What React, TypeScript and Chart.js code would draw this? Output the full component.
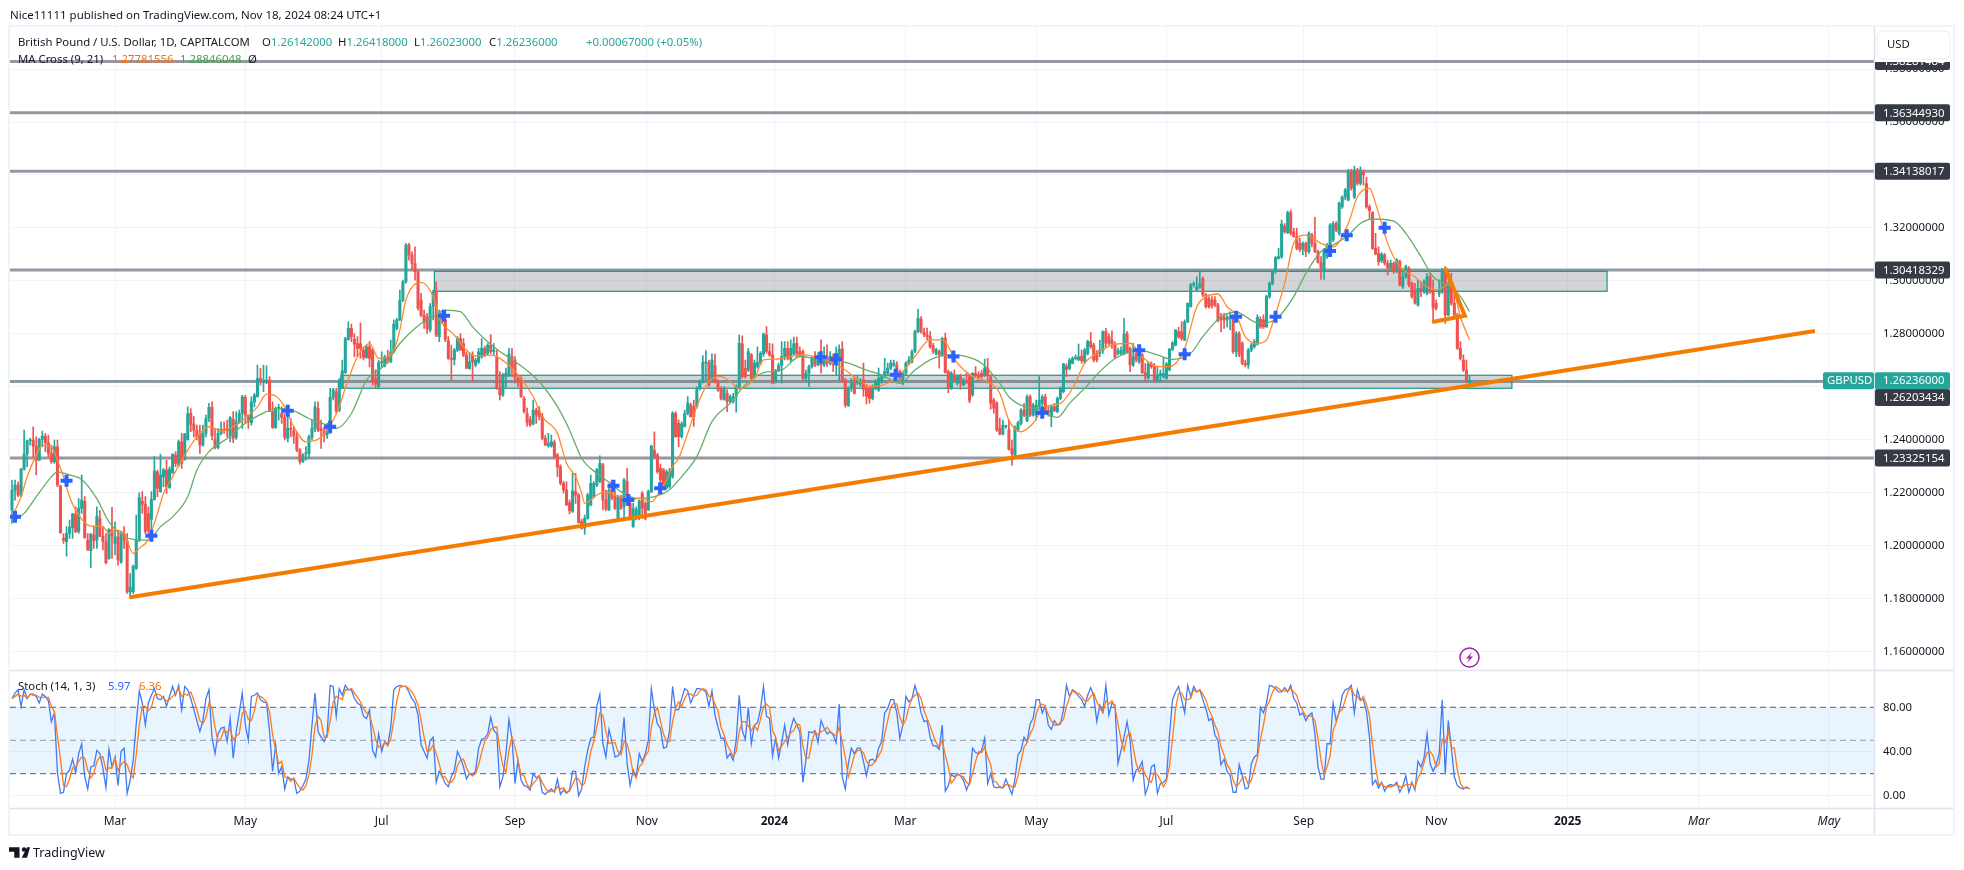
import React, { useEffect, useRef } from "react";
import { Chart, registerables } from "chart.js";

Chart.register(...registerables);

// Each candle is [open, high, low, close].
const candles2023a = [
[1.2135,1.2249,1.2085,1.2211],[1.2211,1.2249,1.2173,1.2230],[1.2230,1.2242,1.2186,1.2192],[1.2192,1.2293,1.2186,1.2290],[1.2290,1.2437,1.2286,1.2347],[1.2347,1.2400,1.2299,1.2397],[1.2397,1.2406,1.2381,1.2400],[1.2400,1.2450,1.2337,1.2377],[1.2377,1.2412,1.2268,1.2324],[1.2324,1.2406,1.2322,1.2402],
[1.2402,1.2434,1.2374,1.2415],[1.2415,1.2425,1.2356,1.2390],[1.2390,1.2419,1.2337,1.2349],[1.2349,1.2381,1.2312,1.2318],[1.2318,1.2400,1.2312,1.2374],[1.2374,1.2400,1.2224,1.2230],[1.2226,1.2230,1.2047,1.2050],[1.2029,1.2047,1.2010,1.2022],[1.2016,1.2073,1.1962,1.2047],[1.2047,1.2098,1.2029,1.2070],
[1.2070,1.2123,1.2029,1.2120],[1.2120,1.2148,1.2050,1.2054],[1.2054,1.2179,1.2047,1.2142],[1.2142,1.2268,1.2123,1.2173],[1.2169,1.2186,1.2029,1.2032],[1.2022,1.2047,1.1982,1.1987],[1.1982,1.2047,1.1918,1.2045],[1.2041,1.2073,1.1991,1.2020],[1.2022,1.2148,1.1991,1.2113],[1.2104,1.2135,1.2035,1.2037],
[1.2037,1.2073,1.1985,1.2016],[1.2016,1.2047,1.1932,1.1937],[1.1953,1.2066,1.1949,1.2063],[1.2060,1.2146,1.1953,1.2037],[1.2010,1.2091,1.1966,1.2035],[1.2035,1.2060,1.1928,1.1947],[1.1940,1.2054,1.1934,1.2047],[1.2047,1.2073,1.1991,1.2022],[1.2020,1.2047,1.1821,1.1827],[1.1827,1.1896,1.1802,1.1844],
[1.1827,1.1928,1.1821,1.1924],[1.1915,1.2117,1.1912,1.2022],[1.2022,1.2201,1.2016,1.2183],[1.2169,1.2205,1.2123,1.2158],[1.2158,1.2186,1.2047,1.2054],[1.2123,1.2148,1.2047,1.2060],[1.2100,1.2205,1.2047,1.2176],[1.2176,1.2337,1.2173,1.2283],[1.2280,1.2286,1.2186,1.2217],[1.2205,1.2347,1.2202,1.2268],
[1.2261,1.2293,1.2224,1.2286],[1.2286,1.2324,1.2198,1.2224],[1.2221,1.2299,1.2217,1.2290],[1.2276,1.2349,1.2274,1.2346],[1.2343,1.2356,1.2299,1.2312],[1.2305,1.2400,1.2299,1.2393],[1.2393,1.2425,1.2293,1.2312],[1.2327,1.2425,1.2324,1.2422],[1.2400,1.2525,1.2400,1.2500],[1.2500,1.2519,1.2431,1.2460],
[1.2460,1.2488,1.2412,1.2437],[1.2437,1.2456,1.2400,1.2412],[1.2422,1.2456,1.2349,1.2381],[1.2381,1.2456,1.2377,1.2425],[1.2425,1.2494,1.2412,1.2481],[1.2481,1.2538,1.2469,1.2523],[1.2523,1.2544,1.2400,1.2415],[1.2402,1.2444,1.2366,1.2371],[1.2371,1.2444,1.2366,1.2425],[1.2425,1.2469,1.2419,1.2440],
[1.2440,1.2469,1.2425,1.2435],[1.2444,1.2475,1.2412,1.2435],[1.2415,1.2488,1.2393,1.2485],[1.2478,1.2507,1.2390,1.2406],[1.2410,1.2507,1.2402,1.2469],[1.2469,1.2513,1.2463,1.2500],[1.2500,1.2569,1.2444,1.2563],[1.2561,1.2569,1.2463,1.2494],[1.2494,1.2494,1.2444,1.2469],[1.2465,1.2563,1.2456,1.2544],
];
const candles2023b = [
[1.2544,1.2576,1.2525,1.2569],[1.2563,1.2683,1.2563,1.2632],[1.2632,1.2670,1.2607,1.2626],[1.2620,1.2683,1.2582,1.2626],[1.2620,1.2680,1.2613,1.2626],[1.2626,1.2639,1.2507,1.2507],[1.2507,1.2544,1.2444,1.2447],[1.2447,1.2525,1.2444,1.2519],[1.2519,1.2535,1.2475,1.2523],[1.2500,1.2525,1.2463,1.2485],
[1.2485,1.2500,1.2400,1.2410],[1.2406,1.2500,1.2393,1.2444],[1.2444,1.2481,1.2412,1.2440],[1.2435,1.2450,1.2387,1.2415],[1.2412,1.2431,1.2356,1.2362],[1.2362,1.2368,1.2309,1.2318],[1.2318,1.2349,1.2314,1.2343],[1.2347,1.2375,1.2324,1.2352],[1.2349,1.2419,1.2330,1.2412],[1.2410,1.2475,1.2400,1.2444],
[1.2444,1.2544,1.2431,1.2525],[1.2519,1.2544,1.2431,1.2437],[1.2444,1.2475,1.2368,1.2435],[1.2431,1.2450,1.2393,1.2419],[1.2419,1.2463,1.2406,1.2444],[1.2427,1.2595,1.2425,1.2561],[1.2561,1.2595,1.2551,1.2588],[1.2582,1.2595,1.2500,1.2510],[1.2513,1.2632,1.2507,1.2626],[1.2595,1.2702,1.2595,1.2661],
[1.2654,1.2787,1.2651,1.2783],[1.2780,1.2846,1.2777,1.2821],[1.2821,1.2837,1.2771,1.2790],[1.2780,1.2802,1.2714,1.2762],[1.2764,1.2790,1.2714,1.2746],[1.2764,1.2842,1.2708,1.2746],[1.2739,1.2752,1.2702,1.2712],[1.2712,1.2758,1.2708,1.2752],[1.2752,1.2771,1.2676,1.2708],[1.2739,1.2746,1.2607,1.2626],
[1.2632,1.2666,1.2595,1.2611],[1.2601,1.2702,1.2598,1.2692],[1.2692,1.2733,1.2676,1.2695],[1.2680,1.2720,1.2676,1.2714],[1.2714,1.2739,1.2689,1.2699],[1.2695,1.2777,1.2692,1.2733],[1.2733,1.2853,1.2729,1.2837],[1.2821,1.2859,1.2815,1.2853],[1.2853,1.2966,1.2850,1.2928],[1.2928,1.3003,1.2922,1.2997],
[1.2997,1.3142,1.2991,1.3136],[1.3136,1.3142,1.3079,1.3098],[1.3098,1.3110,1.3041,1.3066],[1.3066,1.3129,1.3003,1.3035],[1.3035,1.3041,1.2890,1.2897],[1.2928,1.2953,1.2865,1.2871],[1.2871,1.2890,1.2821,1.2846],[1.2865,1.2878,1.2802,1.2821],[1.2815,1.2915,1.2808,1.2903],[1.2903,1.2966,1.2853,1.2959],
[1.2959,1.2997,1.2790,1.2796],[1.2790,1.2890,1.2771,1.2878],[1.2878,1.2890,1.2840,1.2853],[1.2853,1.2865,1.2771,1.2780],[1.2775,1.2790,1.2704,1.2708],[1.2708,1.2758,1.2626,1.2704],[1.2704,1.2746,1.2683,1.2739],[1.2739,1.2790,1.2733,1.2783],[1.2783,1.2802,1.2739,1.2739],[1.2764,1.2783,1.2714,1.2720],
[1.2720,1.2733,1.2670,1.2670],[1.2670,1.2727,1.2666,1.2695],[1.2720,1.2733,1.2624,1.2695],[1.2683,1.2708,1.2676,1.2702],[1.2695,1.2746,1.2689,1.2733],[1.2714,1.2783,1.2708,1.2746],[1.2746,1.2754,1.2714,1.2720],[1.2727,1.2764,1.2720,1.2758],[1.2758,1.2798,1.2727,1.2733],[1.2733,1.2764,1.2720,1.2739],
];
const candles2023c = [
[1.2714,1.2739,1.2591,1.2595],[1.2595,1.2658,1.2551,1.2570],[1.2570,1.2652,1.2564,1.2646],[1.2639,1.2671,1.2595,1.2652],[1.2646,1.2746,1.2639,1.2725],[1.2715,1.2746,1.2639,1.2671],[1.2702,1.2715,1.2614,1.2633],[1.2633,1.2639,1.2602,1.2620],[1.2633,1.2639,1.2561,1.2564],[1.2557,1.2564,1.2501,1.2507],
[1.2501,1.2520,1.2451,1.2466],[1.2476,1.2488,1.2451,1.2457],[1.2461,1.2551,1.2457,1.2513],[1.2513,1.2520,1.2463,1.2495],[1.2511,1.2526,1.2476,1.2488],[1.2488,1.2501,1.2400,1.2407],[1.2407,1.2419,1.2379,1.2381],[1.2378,1.2425,1.2373,1.2388],[1.2378,1.2419,1.2373,1.2394],[1.2390,1.2400,1.2331,1.2337],
[1.2344,1.2350,1.2262,1.2297],[1.2300,1.2306,1.2230,1.2237],[1.2237,1.2243,1.2199,1.2212],[1.2211,1.2243,1.2152,1.2155],[1.2163,1.2174,1.2121,1.2133],[1.2130,1.2274,1.2127,1.2208],[1.2205,1.2274,1.2161,1.2192],[1.2192,1.2199,1.2086,1.2088],[1.2092,1.2101,1.2063,1.2067],[1.2067,1.2117,1.2044,1.2104],
[1.2104,1.2199,1.2101,1.2192],[1.2155,1.2268,1.2151,1.2236],[1.2186,1.2243,1.2180,1.2236],[1.2230,1.2293,1.2224,1.2287],[1.2243,1.2340,1.2239,1.2312],[1.2306,1.2312,1.2136,1.2174],[1.2174,1.2211,1.2133,1.2140],[1.2136,1.2224,1.2133,1.2211],[1.2243,1.2249,1.2174,1.2180],[1.2186,1.2205,1.2138,1.2142],
[1.2098,1.2192,1.2096,1.2186],[1.2186,1.2192,1.2138,1.2142],[1.2148,1.2255,1.2098,1.2249],[1.2243,1.2293,1.2155,1.2161],[1.2161,1.2167,1.2098,1.2111],[1.2073,1.2161,1.2070,1.2142],[1.2104,1.2148,1.2098,1.2136],[1.2111,1.2174,1.2098,1.2170],[1.2199,1.2205,1.2104,1.2142],[1.2161,1.2167,1.2098,1.2104],
[1.2136,1.2211,1.2133,1.2205],[1.2205,1.2381,1.2201,1.2377],[1.2362,1.2431,1.2331,1.2337],[1.2343,1.2350,1.2274,1.2280],[1.2293,1.2309,1.2243,1.2249],[1.2287,1.2293,1.2218,1.2224],[1.2218,1.2287,1.2214,1.2280],[1.2224,1.2293,1.2218,1.2280],[1.2262,1.2507,1.2255,1.2501],[1.2501,1.2507,1.2410,1.2413],
[1.2463,1.2476,1.2375,1.2413],[1.2413,1.2469,1.2407,1.2461],[1.2451,1.2513,1.2448,1.2501],[1.2501,1.2564,1.2495,1.2539],[1.2532,1.2539,1.2486,1.2488],[1.2526,1.2551,1.2451,1.2488],[1.2526,1.2601,1.2520,1.2595],[1.2595,1.2627,1.2589,1.2620],[1.2620,1.2719,1.2614,1.2693],[1.2690,1.2737,1.2627,1.2693],
[1.2693,1.2702,1.2602,1.2608],[1.2627,1.2725,1.2620,1.2702],[1.2681,1.2724,1.2614,1.2620],[1.2620,1.2627,1.2583,1.2589],[1.2595,1.2601,1.2551,1.2557],[1.2551,1.2601,1.2551,1.2595],[1.2576,1.2589,1.2507,1.2545],[1.2545,1.2570,1.2539,1.2564],[1.2545,1.2576,1.2539,1.2564],[1.2564,1.2608,1.2505,1.2601],
];
const candles2024a = [
[1.2595,1.2797,1.2591,1.2765],[1.2763,1.2793,1.2633,1.2639],[1.2671,1.2702,1.2633,1.2639],[1.2664,1.2746,1.2658,1.2734],[1.2721,1.2727,1.2627,1.2633],[1.2639,1.2702,1.2633,1.2690],[1.2677,1.2752,1.2671,1.2692],[1.2690,1.2734,1.2683,1.2727],[1.2725,1.2803,1.2715,1.2800],[1.2797,1.2828,1.2727,1.2734],
[1.2734,1.2765,1.2715,1.2721],[1.2721,1.2763,1.2612,1.2614],[1.2620,1.2667,1.2614,1.2662],[1.2662,1.2690,1.2658,1.2681],[1.2681,1.2771,1.2614,1.2715],[1.2715,1.2771,1.2702,1.2746],[1.2746,1.2771,1.2702,1.2708],[1.2702,1.2778,1.2696,1.2746],[1.2725,1.2788,1.2721,1.2763],[1.2765,1.2788,1.2715,1.2725],
[1.2734,1.2752,1.2715,1.2721],[1.2734,1.2740,1.2627,1.2633],[1.2633,1.2664,1.2620,1.2652],[1.2652,1.2683,1.2602,1.2677],[1.2677,1.2715,1.2671,1.2708],[1.2715,1.2734,1.2677,1.2683],[1.2683,1.2730,1.2680,1.2717],[1.2715,1.2778,1.2652,1.2683],[1.2683,1.2752,1.2677,1.2715],[1.2715,1.2759,1.2677,1.2690],
[1.2690,1.2734,1.2683,1.2717],[1.2715,1.2725,1.2658,1.2683],[1.2683,1.2752,1.2646,1.2725],[1.2702,1.2759,1.2627,1.2742],[1.2744,1.2771,1.2620,1.2627],[1.2627,1.2633,1.2524,1.2532],[1.2530,1.2601,1.2526,1.2595],[1.2595,1.2633,1.2583,1.2614],[1.2614,1.2639,1.2574,1.2576],[1.2614,1.2639,1.2608,1.2627],
[1.2612,1.2633,1.2602,1.2620],[1.2627,1.2690,1.2564,1.2591],[1.2595,1.2608,1.2536,1.2564],[1.2595,1.2601,1.2539,1.2557],[1.2557,1.2608,1.2551,1.2601],[1.2595,1.2627,1.2589,1.2620],[1.2589,1.2671,1.2583,1.2633],[1.2620,1.2646,1.2614,1.2639],[1.2639,1.2708,1.2633,1.2658],[1.2652,1.2690,1.2646,1.2671],
[1.2671,1.2702,1.2664,1.2690],[1.2683,1.2702,1.2677,1.2690],[1.2683,1.2696,1.2652,1.2658],[1.2658,1.2664,1.2627,1.2633],[1.2614,1.2658,1.2608,1.2652],[1.2652,1.2696,1.2646,1.2690],[1.2690,1.2715,1.2683,1.2702],[1.2696,1.2740,1.2690,1.2734],[1.2734,1.2815,1.2730,1.2809],[1.2809,1.2893,1.2805,1.2859],
[1.2856,1.2866,1.2803,1.2809],[1.2807,1.2822,1.2790,1.2797],[1.2797,1.2822,1.2778,1.2790],[1.2790,1.2809,1.2746,1.2752],[1.2756,1.2765,1.2727,1.2734],[1.2725,1.2746,1.2721,1.2740],[1.2734,1.2740,1.2671,1.2721],[1.2721,1.2788,1.2715,1.2784],[1.2784,1.2803,1.2652,1.2654],[1.2658,1.2664,1.2579,1.2595],
[1.2595,1.2658,1.2591,1.2652],[1.2646,1.2664,1.2620,1.2627],[1.2614,1.2646,1.2608,1.2639],[1.2639,1.2649,1.2591,1.2614],[1.2608,1.2633,1.2604,1.2627],[1.2620,1.2652,1.2612,1.2617],[1.2639,1.2646,1.2541,1.2549],[1.2570,1.2654,1.2564,1.2652],[1.2652,1.2677,1.2639,1.2646],[1.2646,1.2658,1.2627,1.2637],
];
const candles2024b = [
[1.2652,1.2664,1.2633,1.2639],[1.2646,1.2705,1.2639,1.2671],[1.2671,1.2708,1.2614,1.2646],[1.2639,1.2646,1.2516,1.2539],[1.2551,1.2557,1.2501,1.2520],[1.2539,1.2545,1.2432,1.2438],[1.2444,1.2482,1.2419,1.2422],[1.2422,1.2475,1.2419,1.2456],[1.2450,1.2456,1.2444,1.2450],[1.2438,1.2475,1.2362,1.2365],
[1.2368,1.2400,1.2305,1.2347],[1.2343,1.2453,1.2339,1.2448],[1.2438,1.2471,1.2431,1.2465],[1.2463,1.2519,1.2456,1.2513],[1.2513,1.2538,1.2488,1.2493],[1.2473,1.2570,1.2469,1.2563],[1.2563,1.2570,1.2488,1.2494],[1.2494,1.2538,1.2490,1.2532],[1.2494,1.2551,1.2475,1.2532],[1.2526,1.2639,1.2513,1.2551],
[1.2538,1.2570,1.2526,1.2563],[1.2563,1.2573,1.2500,1.2507],[1.2511,1.2526,1.2490,1.2503],[1.2488,1.2532,1.2450,1.2526],[1.2526,1.2538,1.2507,1.2511],[1.2507,1.2563,1.2503,1.2557],[1.2557,1.2601,1.2551,1.2595],[1.2582,1.2689,1.2578,1.2687],[1.2679,1.2687,1.2639,1.2666],[1.2670,1.2708,1.2664,1.2702],
[1.2689,1.2714,1.2687,1.2708],[1.2708,1.2721,1.2702,1.2708],[1.2702,1.2762,1.2699,1.2714],[1.2717,1.2739,1.2689,1.2699],[1.2695,1.2746,1.2689,1.2739],[1.2727,1.2777,1.2721,1.2771],[1.2771,1.2805,1.2746,1.2752],[1.2758,1.2765,1.2695,1.2702],[1.2727,1.2737,1.2695,1.2702],[1.2727,1.2777,1.2714,1.2739],
[1.2739,1.2812,1.2727,1.2809],[1.2809,1.2821,1.2752,1.2765],[1.2790,1.2802,1.2758,1.2765],[1.2777,1.2812,1.2746,1.2762],[1.2758,1.2771,1.2708,1.2712],[1.2727,1.2746,1.2721,1.2737],[1.2727,1.2752,1.2721,1.2739],[1.2727,1.2859,1.2721,1.2800],[1.2802,1.2809,1.2727,1.2733],[1.2746,1.2752,1.2658,1.2683],
[1.2683,1.2765,1.2677,1.2714],[1.2727,1.2746,1.2695,1.2702],[1.2695,1.2727,1.2689,1.2717],[1.2721,1.2727,1.2651,1.2654],[1.2654,1.2689,1.2624,1.2641],[1.2633,1.2695,1.2629,1.2687],[1.2687,1.2695,1.2670,1.2677],[1.2677,1.2689,1.2620,1.2624],[1.2626,1.2677,1.2620,1.2645],[1.2645,1.2664,1.2620,1.2651],
[1.2639,1.2708,1.2633,1.2651],[1.2633,1.2692,1.2629,1.2687],[1.2664,1.2746,1.2661,1.2742],[1.2742,1.2771,1.2737,1.2767],[1.2758,1.2817,1.2755,1.2815],[1.2809,1.2825,1.2783,1.2790],[1.2809,1.2846,1.2777,1.2783],[1.2777,1.2853,1.2775,1.2846],[1.2846,1.2918,1.2843,1.2916],[1.2903,1.2991,1.2901,1.2985],
[1.2985,1.2997,1.2978,1.2991],[1.2966,1.3016,1.2960,1.2978],[1.2978,1.3044,1.2972,1.2989],[1.3010,1.3016,1.2941,1.2947],[1.2947,1.2953,1.2897,1.2903],[1.2934,1.2941,1.2897,1.2903],[1.2928,1.2941,1.2897,1.2907],[1.2928,1.2941,1.2903,1.2909],[1.2909,1.2916,1.2846,1.2850],[1.2865,1.2878,1.2809,1.2853],
];
const candles2024c = [
[1.2865,1.2878,1.2821,1.2853],[1.2853,1.2872,1.2827,1.2863],[1.2859,1.2884,1.2815,1.2865],[1.2865,1.2872,1.2727,1.2733],[1.2733,1.2809,1.2714,1.2802],[1.2802,1.2809,1.2714,1.2721],[1.2765,1.2771,1.2683,1.2689],[1.2689,1.2702,1.2676,1.2683],[1.2683,1.2746,1.2670,1.2739],[1.2739,1.2765,1.2733,1.2758],
[1.2752,1.2780,1.2746,1.2771],[1.2762,1.2872,1.2758,1.2863],[1.2855,1.2865,1.2821,1.2827],[1.2853,1.2872,1.2821,1.2827],[1.2827,1.2947,1.2825,1.2941],[1.2941,1.2997,1.2934,1.2991],[1.2991,1.3041,1.2985,1.3035],[1.3035,1.3092,1.3029,1.3089],[1.3085,1.3123,1.3082,1.3092],[1.3092,1.3230,1.3085,1.3215],
[1.3207,1.3217,1.3180,1.3186],[1.3182,1.3264,1.3180,1.3258],[1.3258,1.3268,1.3173,1.3180],[1.3186,1.3199,1.3165,1.3167],[1.3167,1.3199,1.3117,1.3123],[1.3142,1.3161,1.3111,1.3119],[1.3119,1.3148,1.3098,1.3142],[1.3142,1.3148,1.3092,1.3111],[1.3111,1.3186,1.3104,1.3180],[1.3173,1.3180,1.3129,1.3142],
[1.3142,1.3240,1.3107,1.3111],[1.3111,1.3117,1.3067,1.3070],[1.3069,1.3092,1.3006,1.3048],[1.3039,1.3123,1.3006,1.3117],[1.3092,1.3142,1.3085,1.3136],[1.3129,1.3217,1.3123,1.3211],[1.3155,1.3224,1.3148,1.3217],[1.3217,1.3224,1.3186,1.3192],[1.3180,1.3299,1.3173,1.3293],[1.3280,1.3321,1.3274,1.3316],
[1.3316,1.3350,1.3306,1.3343],[1.3306,1.3421,1.3302,1.3412],[1.3412,1.3421,1.3343,1.3350],[1.3316,1.3434,1.3312,1.3419],[1.3419,1.3425,1.3362,1.3368],[1.3368,1.3431,1.3362,1.3419],[1.3412,1.3419,1.3362,1.3400],[1.3368,1.3391,1.3274,1.3280],[1.3280,1.3287,1.3236,1.3265],[1.3258,1.3262,1.3119,1.3123],
[1.3123,1.3180,1.3098,1.3102],[1.3104,1.3129,1.3060,1.3073],[1.3077,1.3107,1.3069,1.3102],[1.3098,1.3104,1.3060,1.3067],[1.3067,1.3079,1.3023,1.3048],[1.3048,1.3079,1.3041,1.3067],[1.3067,1.3073,1.3029,1.3035],[1.3035,1.3085,1.3031,1.3079],[1.3073,1.3079,1.2981,1.2985],[1.2978,1.3048,1.2972,1.3016],
[1.3016,1.3060,1.3010,1.3054],[1.3048,1.3054,1.2978,1.2985],[1.2991,1.2997,1.2934,1.2941],[1.2966,1.2991,1.2913,1.2916],[1.2909,1.3004,1.2905,1.2972],[1.2972,1.2997,1.2941,1.2960],[1.2960,1.3004,1.2953,1.2997],[1.2953,1.3029,1.2947,1.3016],[1.3016,1.3035,1.2953,1.2960],[1.2966,1.3004,1.2846,1.2897],
[1.2916,1.2928,1.2890,1.2897],[1.2953,1.3004,1.2941,1.2966],[1.2960,1.3048,1.2953,1.3041],[1.3035,1.3054,1.2840,1.2872],[1.2872,1.2997,1.2868,1.2991],[1.2991,1.3029,1.2909,1.2916],[1.2916,1.2953,1.2865,1.2872],[1.2872,1.2878,1.2742,1.2746],[1.2746,1.2771,1.2702,1.2708],[1.2702,1.2721,1.2658,1.2664],
[1.2664,1.2702,1.2614,1.2620],[1.26142,1.26418,1.26023,1.26236],
];

const maFastBars = [0,3,5,8,10,13,15,17,19,21,25,27,30,32,34,37,40,42,45,48,50,53,58,61,65,69,73,77,81,84,87,90,93,97,102,106,108,110,114,118,121,126,128,130,135,139,141,146,150,153,158,161,167,172,175,180,183,186,188,189,193,196,199,204,207,211,213,216,218,220,223,226,230,234,237,240,245,248,252,257,261,265,271,275,280,284,289,293,298,303,307,312,317,322,326,329,333,337,341,346,350,354,358,363,369,373,378,382,387,391,394,398,401,404,407,411,414,416,420,423,427,432,436,441,444,448,450,454,458,463,466,470,475,478,481];
const maFastValues = [1.2110,1.2186,1.2261,1.2343,1.2381,1.2375,1.2324,1.2261,1.2186,1.2136,1.2079,1.2075,1.2073,1.2048,1.2060,1.2048,1.1972,1.1991,1.2025,1.2123,1.2198,1.2261,1.2362,1.2412,1.2450,1.2435,1.2450,1.2481,1.2525,1.2573,1.2566,1.2525,1.2450,1.2393,1.2410,1.2475,1.2525,1.2595,1.2714,1.2764,1.2708,1.2739,1.2815,1.2928,1.2995,1.2941,1.2859,1.2796,1.2739,1.2717,1.2720,1.2708,1.2646,1.2564,1.2488,1.2425,1.2312,1.2262,1.2199,1.2161,1.2192,1.2205,1.2192,1.2174,1.2180,1.2167,1.2192,1.2249,1.2300,1.2331,1.2425,1.2526,1.2620,1.2639,1.2620,1.2595,1.2633,1.2702,1.2705,1.2715,1.2721,1.2715,1.2690,1.2664,1.2620,1.2601,1.2614,1.2646,1.2715,1.2778,1.2778,1.2690,1.2640,1.2620,1.2576,1.2475,1.2431,1.2463,1.2526,1.2538,1.2595,1.2689,1.2727,1.2758,1.2765,1.2714,1.2677,1.2677,1.2746,1.2903,1.2941,1.2951,1.2903,1.2872,1.2790,1.2765,1.2777,1.2840,1.2991,1.3142,1.3173,1.3142,1.3129,1.3217,1.3318,1.3350,1.3293,1.3142,1.3054,1.3016,1.2985,1.2966,1.2991,1.2865,1.2778];
const maSlowBars = [0,4,8,13,15,19,23,28,32,37,40,45,49,53,58,61,65,71,77,84,87,93,98,103,107,112,117,123,128,135,139,143,148,152,157,161,166,174,180,184,188,193,196,201,206,212,217,221,226,231,237,242,248,254,260,265,271,276,282,287,293,298,304,310,315,320,326,329,334,338,345,349,355,359,365,372,378,383,389,393,399,404,410,413,418,423,427,432,436,441,445,449,456,460,465,469,475,478,481];
const maSlowValues = [1.2091,1.2123,1.2186,1.2261,1.2280,1.2268,1.2251,1.2179,1.2091,1.2035,1.2025,1.2022,1.2073,1.2110,1.2186,1.2286,1.2356,1.2406,1.2463,1.2507,1.2519,1.2510,1.2481,1.2460,1.2444,1.2500,1.2626,1.2683,1.2764,1.2840,1.2865,1.2890,1.2884,1.2827,1.2771,1.2734,1.2696,1.2620,1.2526,1.2438,1.2331,1.2274,1.2249,1.2205,1.2180,1.2186,1.2212,1.2262,1.2337,1.2469,1.2539,1.2608,1.2654,1.2664,1.2715,1.2708,1.2702,1.2690,1.2664,1.2646,1.2614,1.2664,1.2708,1.2721,1.2715,1.2690,1.2614,1.2563,1.2526,1.2519,1.2485,1.2538,1.2607,1.2658,1.2714,1.2739,1.2721,1.2704,1.2727,1.2790,1.2865,1.2882,1.2846,1.2840,1.2865,1.2941,1.3029,1.3111,1.3136,1.3173,1.3217,1.3234,1.3226,1.3180,1.3092,1.3016,1.2978,1.2941,1.2885];

const crossBars = [1,18,46,91,105,142.6,198.5,203.4,213.9,266.9,271.9,291.6,310.7,340,372,387,404,417,435,440.5,453];
const crossPrices = [1.2110,1.2246,1.2039,1.2510,1.2450,1.2869,1.2227,1.2174,1.2218,1.2712,1.2705,1.2646,1.2715,1.2503,1.2739,1.2724,1.2865,1.2865,1.3113,1.3173,1.3201];

const stochK = [88,93,96,81,96,88,92,92,90,84,92,90,86,67,75,21,2,3,20,23,33,21,38,47,17,6,26,27,41,38,25,7,42,26,35,9,40,43,2,14,32,65,95,84,64,84,91,97,88,87,90,81,90,99,91,100,78,99,96,88,78,68,58,68,88,96,53,38,56,61,62,49,70,34,58,75,93,64,50,90,91,93,87,85,84,58,22,46,20,26,6,17,15,15,2,4,9,15,32,64,93,58,53,49,56,100,99,72,97,91,100,96,96,88,84,82,72,70,78,41,35,56,40,49,46,62,96,99,100,99,99,94,88,84,73,46,40,34,50,53,12,22,17,11,8,17,23,40,34,26,15,20,18,23,43,51,52,56,71,59,56,8,17,38,69,52,11,32,14,9,8,5,20,16,18,3,1,4,6,3,15,1,5,2,5,22,22,0,6,26,41,52,53,81,92,47,35,60,49,35,36,41,71,29,9,23,17,38,31,38,50,97,78,65,61,43,44,59,99,78,78,88,97,95,84,91,97,97,96,94,81,95,73,62,52,52,34,38,32,50,91,59,51,80,47,64,66,78,99,72,70,36,52,34,48,64,46,61,70,64,58,12,32,58,57,59,48,68,61,56,58,55,48,83,17,6,29,43,38,43,43,31,18,32,33,31,43,49,75,79,87,87,75,52,64,90,85,88,100,90,75,67,68,53,45,45,42,64,4,9,19,17,20,18,14,5,12,43,39,38,41,52,11,20,8,7,8,7,15,8,1,15,37,41,53,49,65,70,87,87,75,81,64,60,68,64,65,78,100,90,96,94,90,87,81,91,98,90,67,82,76,100,73,84,82,29,41,53,67,50,14,23,25,31,1,9,26,28,2,11,12,15,55,87,94,99,87,75,100,90,99,94,96,87,79,68,70,55,50,28,33,22,18,3,3,28,18,6,7,29,35,37,80,75,84,100,99,97,94,94,98,94,100,88,84,73,75,68,73,75,56,26,15,15,47,47,84,68,76,91,96,97,100,75,96,87,87,76,53,10,14,7,12,4,9,10,9,12,3,9,18,3,12,5,31,26,34,56,29,22,28,38,87,20,68,44,17,9,7,6,8,5.97];
const stochD = [88,90,92,90,91,88,92,91,91,89,89,89,89,81,76,54,33,9,8,15,25,26,31,35,34,23,16,20,31,35,35,23,25,25,34,23,28,31,28,20,16,37,64,81,81,77,80,91,92,91,88,86,87,90,93,97,90,92,91,94,87,78,68,65,71,84,79,62,49,52,60,57,60,51,54,56,75,77,69,68,77,91,90,88,85,76,55,42,29,31,17,16,13,16,11,7,5,9,19,37,63,72,68,53,53,68,85,90,89,87,96,96,97,93,89,85,79,75,73,63,51,44,44,48,45,52,68,86,98,99,99,97,94,89,82,68,53,40,41,46,38,29,17,17,12,12,16,27,32,33,25,20,18,20,28,39,49,53,60,62,62,41,27,21,41,53,44,32,19,18,10,7,11,14,18,12,7,3,4,4,8,6,7,3,4,10,16,15,9,11,24,40,49,62,75,73,58,47,48,48,40,37,49,47,36,20,16,26,29,36,40,62,75,80,68,56,49,49,67,79,85,81,88,93,92,90,91,95,97,96,90,90,83,77,62,55,46,41,35,40,58,67,67,63,59,64,59,69,81,83,80,59,53,41,45,49,53,57,59,65,64,45,34,34,49,58,55,58,59,62,58,56,54,62,49,35,17,26,37,41,41,39,31,27,28,32,36,41,56,68,80,84,83,71,64,69,80,88,91,93,88,77,70,63,55,48,44,50,37,26,11,15,19,18,17,12,10,20,31,40,39,44,35,28,13,12,7,7,10,10,8,8,18,31,44,48,56,61,74,81,83,81,73,68,64,64,66,69,81,89,95,93,93,90,86,86,90,93,85,80,75,86,83,86,80,65,51,41,54,57,44,29,21,26,19,14,12,21,19,14,8,13,27,52,79,93,93,87,87,88,96,94,96,92,87,78,72,64,58,44,37,28,24,14,8,11,16,17,10,14,24,34,51,64,80,86,94,99,97,95,95,95,97,94,91,82,77,72,72,72,68,52,32,19,26,36,59,66,76,78,87,95,98,91,90,86,90,83,72,46,26,10,11,8,8,8,9,10,8,8,10,10,11,7,16,21,30,39,40,36,26,29,51,48,58,44,43,23,11,7,7,6.36];

const priceLevels = [1.38281484,1.3634493,1.34138017,1.30418329,1.26203434,1.23325154];
const levelTexts = ["1.38281484","1.36344930","1.34138017","1.30418329","1.26203434","1.23325154"];
const lastPrice = 1.26236;
const lastPriceText = "1.26236000";

const boxBarStart = [139.4,108.5];
const boxBarEnd = [526.4,495];
const boxTop = [1.30366,1.26442];
const boxBottom = [1.29611,1.25951];

const trendBars = [38.9,595];
const trendPrices = [1.18064,1.2811];
const wedgeBars = [473,479.5,468.7];
const wedgePrices = [1.3048,1.2869,1.2845];

const priceTicks = [1.38,1.36,1.34,1.32,1.3,1.28,1.26,1.24,1.22,1.2,1.18,1.16];
const stochTicks = [80,40,0];
const stochGuides = [80,50,20];
const timeTickBars = [34,77,122,166,209.5,251.6,294.8,338,381,426.3,470,513.4,556.7,599.6];
const timeTickLabels = ["Mar","May","Jul","Sep","Nov","2024","Mar","May","Jul","Sep","Nov","2025","Mar","May"];

const candles = [...candles2023a,...candles2023b,...candles2023c,...candles2024a,...candles2024b,...candles2024c];
const UP = "#26a69a";
const DOWN = "#ef5350";
const FONT = '"Noto Sans", sans-serif';
const TEXT_SIZE = 11.35;
const X_MIN = -0.66;
const X_MAX = 614.5;
const pairUp = (xs: number[], ys: number[]) => xs.map((x, i) => ({ x, y: ys[i] }));
const roundRect = (c: CanvasRenderingContext2D, x: number, y: number, w: number, h: number, r: number) => {
  c.beginPath();
  c.roundRect(x, y, w, h, r);
};

const panes = {
  id: "panes",
  beforeDatasetsDraw(chart: any) {
    const { ctx, chartArea, scales } = chart;
    ctx.save();
    const top = scales.ySt.getPixelForValue(80);
    const bottom = scales.ySt.getPixelForValue(20);
    ctx.fillStyle = "rgba(33,150,243,0.1)";
    ctx.fillRect(chartArea.left, top, chartArea.right - chartArea.left, bottom - top);
    ctx.restore();
  },
  beforeDatasetDraw(chart: any, args: any) {
    if (args.index !== 0) return;
    const { ctx, scales } = chart;
    ctx.save();
    boxBarStart.forEach((b, i) => {
      const x0 = scales.x.getPixelForValue(b);
      const x1 = scales.x.getPixelForValue(boxBarEnd[i]);
      const y0 = scales.y.getPixelForValue(boxTop[i]);
      const y1 = scales.y.getPixelForValue(boxBottom[i]);
      ctx.fillStyle = "rgba(120,123,134,0.33)";
      ctx.fillRect(x0, y0, x1 - x0, y1 - y0);
      ctx.strokeStyle = "#1b9583";
      ctx.lineWidth = 1.2;
      ctx.strokeRect(x0, y0, x1 - x0, y1 - y0);
    });
    ctx.restore();
  },
  afterDraw(chart: any) {
    const { ctx, chartArea, scales } = chart;
    const c = ctx as CanvasRenderingContext2D;
    const L = chartArea.left;
    const R = chartArea.right;
    const edge = "#e0e3eb";
    c.save();
    c.lineWidth = 1.5;
    c.strokeStyle = edge;
    c.beginPath();
    const paneLine = Math.round(scales.ySt.top) + 0.5;
    c.moveTo(L, paneLine); c.lineTo(R + 80, paneLine);
    c.moveTo(L, chartArea.bottom + 0.5); c.lineTo(R + 80, chartArea.bottom + 0.5);
    c.moveTo(R + 0.5, chartArea.top); c.lineTo(R + 0.5, chartArea.bottom + 26);
    c.stroke();
    c.strokeStyle = "#f0f3fa";
    c.lineWidth = 2;
    c.strokeRect(L - 1, chartArea.top - 1, R + 82 - L - 1, chartArea.bottom + 28 - chartArea.top);

    c.font = `${TEXT_SIZE}px ${FONT}`;
    c.textBaseline = "middle";
    c.textAlign = "left";
    const labelX = R + 1;
    const labelW = 75;
    const labelH = 17;
    priceLevels.forEach((lvl, i) => {
      let y = scales.y.getPixelForValue(lvl);
      if (i === 4) y += 16;
      c.save();
      if (i === 0) {
        c.beginPath();
        c.rect(R + 1, 62, 80, 40);
        c.clip();
      }
      c.fillStyle = "#363a45";
      roundRect(c, labelX, y - labelH / 2, labelW, labelH, 2);
      c.fill();
      c.fillStyle = "#ffffff";
      c.fillText(levelTexts[i], R + 9, y + 0.5);
      c.restore();
    });

    const py = scales.y.getPixelForValue(lastPrice);
    c.fillStyle = UP;
    roundRect(c, labelX, py - labelH / 2, labelW, labelH, 2);
    c.fill();
    roundRect(c, R - 51, py - labelH / 2, 51, labelH, 2);
    c.fill();
    c.fillStyle = "#ffffff";
    c.fillText(lastPriceText, R + 9, py + 0.5);
    c.fillText("GBPUSD", R - 47, py + 0.5);

    c.fillStyle = "#ffffff";
    c.strokeStyle = "#f0f3fa";
    c.lineWidth = 1.5;
    roundRect(c, R + 3, 31, 73, 28, 6);
    c.fill();
    c.stroke();
    c.fillStyle = "#131722";
    c.fillText("USD", R + 13, 45);

    const ex = scales.x.getPixelForValue(481);
    const ey = 657.5;
    c.strokeStyle = "#9c27b0";
    c.fillStyle = "#ffffff";
    c.lineWidth = 1.5;
    c.beginPath();
    c.arc(ex, ey, 9.5, 0, Math.PI * 2);
    c.fill();
    c.stroke();
    c.fillStyle = "#9c27b0";
    c.beginPath();
    c.moveTo(ex + 2.5, ey - 5.5);
    c.lineTo(ex - 3.5, ey + 1);
    c.lineTo(ex - 0.3, ey + 1);
    c.lineTo(ex - 2.5, ey + 5.5);
    c.lineTo(ex + 3.5, ey - 1);
    c.lineTo(ex + 0.3, ey - 1);
    c.closePath();
    c.fill();
    c.restore();
  },
};

const textStyle = (left: number, center: number, color: string, extra: any = {}): React.CSSProperties => ({
  position: "absolute",
  left,
  top: center - 9,
  height: 18,
  lineHeight: "18px",
  fontFamily: FONT,
  fontSize: TEXT_SIZE,
  color,
  whiteSpace: "nowrap",
  ...extra,
});

export default function App() {
  const ref = useRef<HTMLCanvasElement>(null);
  useEffect(() => {
    const datasets: any[] = [
      {
        type: "bar", label: "wicks", grouped: false, barThickness: 1, order: 6,
        data: candles.map((c, i) => ({ x: i, y: [c[2], c[1]] })),
        backgroundColor: candles.map((c) => (c[3] >= c[0] ? UP : DOWN)),
      },
      {
        type: "bar", label: "bodies", grouped: false, barThickness: 2.4, minBarLength: 1, order: 5,
        data: candles.map((c, i) => ({ x: i, y: [c[0], c[3]] })),
        backgroundColor: candles.map((c) => (c[3] >= c[0] ? UP : DOWN)),
      },
      ...priceLevels.map((lvl, i) => ({
        type: "line", label: `level ${i}`, order: 9, borderColor: "#9598a1", borderWidth: 3, pointRadius: 0,
        data: [{ x: X_MIN, y: lvl }, { x: X_MAX, y: lvl }],
      })),
      {
        type: "line", label: "last", order: 8, borderColor: UP, borderWidth: 1, borderDash: [1, 2], pointRadius: 0,
        data: [{ x: X_MIN, y: lastPrice }, { x: X_MAX, y: lastPrice }],
      },
      {
        type: "line", label: "MA 21", order: 4, borderColor: "#66ad6a", borderWidth: 1.3, pointRadius: 0,
        cubicInterpolationMode: "monotone", data: pairUp(maSlowBars, maSlowValues),
      },
      {
        type: "line", label: "MA 9", order: 3, borderColor: "#ff8a2e", borderWidth: 1.3, pointRadius: 0,
        cubicInterpolationMode: "monotone", data: pairUp(maFastBars, maFastValues),
      },
      {
        type: "scatter", label: "cross", order: 2, pointStyle: "cross", pointRadius: 6, pointBorderWidth: 4,
        pointBorderColor: "#2962ff", pointBackgroundColor: "#2962ff", data: pairUp(crossBars, crossPrices),
      },
      {
        type: "line", label: "trend", order: 1, borderColor: "#f57c00", borderWidth: 4, pointRadius: 0,
        data: pairUp(trendBars, trendPrices),
      },
      {
        type: "line", label: "wedge", order: 1, borderColor: "#f57c00", borderWidth: 4, pointRadius: 0,
        data: pairUp(wedgeBars, wedgePrices),
      },
      ...stochGuides.map((g, i) => ({
        type: "line", label: `guide ${g}`, yAxisID: "ySt", order: 7, borderColor: i === 1 ? "#a9acb5" : "#787b86",
        borderWidth: 1.2, borderDash: [6, 4], pointRadius: 0,
        data: [{ x: X_MIN, y: g }, { x: X_MAX, y: g }],
      })),
      {
        type: "line", label: "%K", yAxisID: "ySt", order: 3, borderColor: "#4279f4", borderWidth: 1.3, pointRadius: 0,
        data: stochK.map((y, x) => ({ x, y })),
      },
      {
        type: "line", label: "%D", yAxisID: "ySt", order: 2, borderColor: "#ff7a1a", borderWidth: 1.3, pointRadius: 0,
        data: stochD.map((y, x) => ({ x, y })),
      },
    ];
    const chart = new Chart(ref.current as HTMLCanvasElement, {
      type: "bar",
      data: { datasets },
      plugins: [panes],
      options: {
        animation: false,
        responsive: false,
        devicePixelRatio: 1,
        layout: { padding: { left: 10, top: 27, right: 10, bottom: 36 } },
        plugins: { legend: { display: false }, tooltip: { enabled: false } },
        scales: {
          x: {
            type: "linear", min: X_MIN, max: X_MAX, offset: false,
            afterBuildTicks: (a: any) => { a.ticks = timeTickBars.map((value) => ({ value })); },
            afterFit: (a: any) => { a.height = 26; },
            grid: { color: "#f2f3f6", drawTicks: false, offset: false },
            border: { display: false },
            ticks: {
              autoSkip: false, maxRotation: 0, padding: 6, color: "#131722",
              font: (ctx: any) => {
                const label = timeTickLabels[ctx.index];
                return {
                  family: FONT, size: 12,
                  weight: label && label.length === 4 ? "bold" : "normal",
                  style: ctx.index > 11 ? "italic" : "normal",
                };
              },
              callback: (_v: any, i: number) => timeTickLabels[i],
            },
          },
          y: {
            type: "linear", position: "right", stack: "panes", stackWeight: 643.3, weight: 0,
            min: 1.15309, max: 1.39585,
            afterBuildTicks: (a: any) => { a.ticks = priceTicks.map((value) => ({ value })); },
            afterFit: (a: any) => { a.width = 80; },
            grid: { color: "#f2f3f6", drawTicks: false },
            border: { display: false },
            ticks: {
              padding: 9, color: "#131722", autoSkip: false, font: { family: FONT, size: TEXT_SIZE },
              callback: (v: any) => Number(v).toFixed(8),
            },
          },
          ySt: {
            type: "linear", position: "right", stack: "panes", stackWeight: 137.7, weight: 1,
            min: -11.27, max: 113.64,
            afterBuildTicks: (a: any) => { a.ticks = stochTicks.map((value) => ({ value })); },
            afterFit: (a: any) => { a.width = 80; },
            grid: { color: "#f2f3f6", drawTicks: false },
            border: { display: false },
            ticks: {
              padding: 9, color: "#131722", autoSkip: false, font: { family: FONT, size: TEXT_SIZE },
              callback: (v: any) => Number(v).toFixed(2),
            },
          },
        },
      } as any,
    });
    return () => chart.destroy();
  }, []);

  return (
    <div style={{ position: "absolute", left: 0, top: 0, width: 1964, height: 870, overflow: "hidden", background: "#fff" }}>
      <canvas ref={ref} width={1964} height={870} style={{ position: "absolute", left: 0, top: 0, display: "block" }} />
      <span style={textStyle(10, 15, "#131722", { fontSize: 11.5 })}>Nice11111 published on TradingView.com, Nov 18, 2024 08:24 UTC+1</span>
      <span style={textStyle(18, 41.5, "#131722")}>British Pound / U.S. Dollar, 1D, CAPITALCOM</span>
      <span style={textStyle(262, 41.5, "#131722")}>O<span style={{ color: UP }}>1.26142000</span></span>
      <span style={textStyle(338, 41.5, "#131722")}>H<span style={{ color: UP }}>1.26418000</span></span>
      <span style={textStyle(414, 41.5, "#131722")}>L<span style={{ color: UP }}>1.26023000</span></span>
      <span style={textStyle(489, 41.5, "#131722")}>C<span style={{ color: UP }}>1.26236000</span></span>
      <span style={textStyle(586, 41.5, UP)}>+0.00067000 (+0.05%)</span>
      <span style={textStyle(18, 58.5, "#131722")}>MA Cross (9, 21)</span>
      <span style={textStyle(112, 58.5, "#ff6d00")}>1.27781556</span>
      <span style={textStyle(180, 58.5, "#43a047")}>1.28846048</span>
      <span style={textStyle(248, 58.5, "#131722")}>Ø</span>
      <span style={textStyle(18, 685.5, "#131722")}>Stoch (14, 1, 3)</span>
      <span style={textStyle(108, 685.5, "#2962ff")}>5.97</span>
      <span style={textStyle(139, 685.5, "#ff6d00")}>6.36</span>
      <svg width={21} height={11} viewBox="0 6 28 14" style={{ position: "absolute", left: 9, top: 847 }}>
        <path d="M14 6H0v6h7v8h7V6Z" fill="#131722" />
        <circle cx="20" cy="9" r="3" fill="#131722" />
        <path d="M28 6h-4l-7 14h7l4-14Z" fill="#131722" />
      </svg>
      <span style={textStyle(33, 852.5, "#131722", { fontSize: 12.5 })}>TradingView</span>
    </div>
  );
}
